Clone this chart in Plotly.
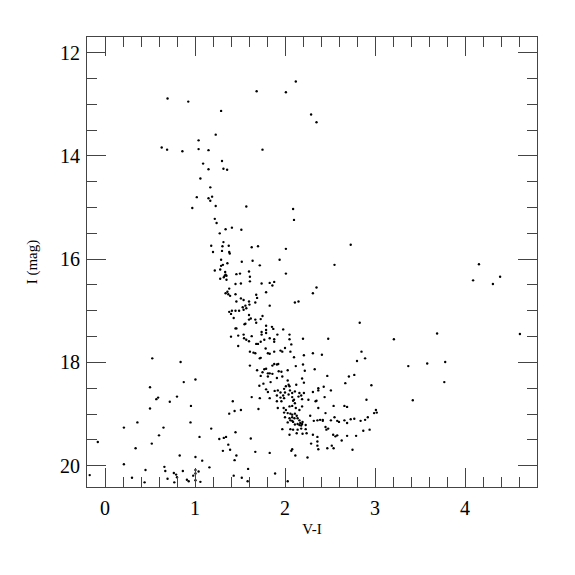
import plotly.graph_objects as go

# (V-I, I) pairs
stars = [
    (2.12,12.56),(1.685,12.75),(2.01,12.77),(0.695,12.89),(0.925,12.95),(1.29,13.13),(2.29,13.20),(2.35,13.35),
    (1.23,13.59),(1.04,13.70),(0.63,13.84),(0.69,13.88),(0.86,13.91),(1.04,13.87),(1.15,13.89),(1.75,13.88),
    (1.30,14.10),(1.09,14.15),(1.15,14.26),(1.316,14.25),(1.357,14.27),(1.06,14.44),(1.17,14.61),(1.02,14.80),
    (1.19,14.79),(1.15,14.82),(1.17,14.87),(0.97,15.01),(1.23,14.97),(1.57,14.98),(2.09,15.03),(2.10,15.24),
    (1.22,15.22),(1.24,15.30),(1.34,15.42),(1.41,15.39),(1.515,15.43),(1.275,15.50),
    (1.316,15.67),(1.18,15.74),(1.305,15.75),(1.375,15.74),(1.63,15.77),(1.70,15.75),(2.01,15.80),(1.20,15.86),
    (1.30,15.84),(1.38,15.86),(1.386,15.89),(1.29,16.01),(1.52,16.05),(1.64,16.03),(1.94,16.01),(1.36,16.08),
    (1.31,16.11),(1.29,16.13),(1.72,16.12),(1.22,16.22),(1.28,16.20),(1.335,16.25),(1.34,16.30),(1.35,16.32),
    (1.33,16.32),(1.32,16.35),(1.28,16.38),(1.46,16.29),(1.50,16.28),(1.60,16.24),(1.61,16.34),(1.61,16.43),
    (2.01,16.28),(1.35,16.40),(1.45,16.48),(1.51,16.47),(1.74,16.47),(1.83,16.46),(1.88,16.44),(1.86,16.51),
    (1.79,16.64),(1.38,16.57),(1.36,16.63),(1.34,16.66),(1.37,16.68),(1.39,16.71),(1.45,16.68),(1.51,16.76),
    (1.54,16.79),(1.68,16.69),(1.69,16.75),(1.46,16.82),(1.60,16.82),(1.605,16.88),(1.67,16.84),(2.11,16.84),
    (2.15,16.82),(1.83,16.90),(1.53,16.93),(1.56,16.90),(1.57,16.95),(1.54,16.98),(1.38,17.02),(1.41,17.00),
    (1.45,17.00),(1.40,17.06),(1.49,17.00),(1.60,17.08),(1.62,17.15),(1.60,17.17),(1.67,17.17),(1.73,17.16),
    (1.75,17.10),(1.43,17.14),(1.55,17.26),(1.56,17.25),(1.68,17.23),(1.79,17.29),(1.45,17.34),(1.46,17.34),
    (1.74,17.41),(1.74,17.46),(1.79,17.37),(1.79,17.43),(1.855,17.31),(1.87,17.35),(1.915,17.46),(1.98,17.36),
    (1.40,17.50),(1.48,17.48),(1.54,17.46),(1.545,17.53),(1.57,17.56),(1.60,17.59),(1.63,17.49),(1.68,17.64),
    (1.70,17.64),(1.73,17.60),(1.77,17.56),(1.83,17.53),(1.88,17.55),(1.88,17.60),(2.05,17.46),(2.05,17.55),
    (2.07,17.65),(2.20,17.54),(1.48,17.68),(1.61,17.79),(1.65,17.81),(1.67,17.82),(1.72,17.92),(1.73,17.91),
    (1.785,17.73),(1.81,17.82),(1.83,17.83),(1.88,17.79),(1.95,17.77),(1.97,17.79),(2.00,17.72),(2.06,17.79),
    (2.10,17.90),(2.21,17.86),(0.525,17.92),
    (2.31,17.82),(2.41,17.85),(2.85,17.79),(2.89,17.92),(2.80,17.97),
    (1.61,18.06),(2.20,18.04),(2.12,18.07),(1.88,18.03),(1.91,18.04),(1.925,18.03),(1.86,18.06),
    (1.69,18.15),(1.77,18.13),(1.79,18.12),(1.75,18.19),(1.81,18.21),(1.83,18.21),(1.93,18.17),(1.96,18.18),
    (1.86,18.22),(2.03,18.15),(2.22,18.16),(2.33,18.13),(1.73,18.26),(1.81,18.27),(1.91,18.30),(1.97,18.27),
    (2.19,18.31),(2.47,18.26),(2.71,18.27),(2.77,18.24),(1.84,18.38),(1.76,18.41),(1.715,18.45),(2.03,18.35),
    (2.04,18.43),(2.05,18.46),(2.01,18.46),(2.21,18.39),(2.125,18.43),(2.67,18.40),(2.96,18.44),
    (1.79,18.52),(1.81,18.57),(1.885,18.55),(1.92,18.54),(1.95,18.58),(1.99,18.51),(2.00,18.58),(2.055,18.54),
    (2.08,18.59),(2.11,18.56),(2.16,18.59),(2.21,18.59),(2.31,18.57),(2.37,18.54),(2.37,18.50),(2.43,18.47),
    (2.51,18.54),(1.63,18.67),(1.72,18.69),(1.83,18.69),(1.91,18.64),(1.95,18.68),(1.98,18.64),(1.99,18.69),
    (2.04,18.62),(2.08,18.67),(2.10,18.72),(2.15,18.66),(2.18,18.64),(2.19,18.71),(2.26,18.72),(2.34,18.75),
    (2.35,18.74),(2.44,18.67),(1.42,18.75),(1.91,18.75),(1.96,18.75),(2.09,18.74),(2.11,18.79),(2.905,18.72),
    (1.705,18.90),(1.92,18.88),(1.985,18.88),(2.01,18.92),(2.05,18.85),(2.08,18.84),(2.12,18.88),(2.16,18.92),
    (2.19,18.85),(2.28,19.03),(2.37,18.88),(2.45,18.98),(2.54,18.84),(2.66,18.84),(2.69,18.86),
    (1.38,18.99),(1.44,18.94),(1.51,18.92),(1.99,18.97),(2.03,18.98),(2.06,18.99),(2.08,19.01),(2.11,18.99),
    (2.13,19.03),(2.08,19.06),(2.105,19.08),(2.14,19.08),(2.00,19.06),(2.05,19.08),(2.06,19.12),(2.08,19.13),
    (2.09,19.15),(2.16,19.12),(2.17,19.17),(2.19,19.19),(2.195,19.15),(2.03,19.16),(2.11,19.20),(2.14,19.19),
    (2.16,19.21),(2.18,19.22),(2.23,19.21),(2.32,19.13),(2.36,19.12),(2.39,19.11),(2.42,19.11),(2.42,19.13),
    (2.51,19.12),(2.55,19.06),(2.58,19.13),(2.60,19.15),(2.66,19.12),(2.69,19.17),(2.73,19.10),(2.77,19.09),
    (2.84,19.13),(2.89,19.11),(2.92,19.06),(2.99,18.98),(3.02,18.97),(3.01,18.92),(2.45,19.25),(2.48,19.28),
    (2.46,19.30),(1.97,19.29),(2.06,19.29),(2.09,19.30),(2.14,19.30),(2.18,19.28),(2.23,19.29),(2.05,19.40),
    (2.13,19.37),(2.195,19.38),(2.24,19.37),(2.31,19.40),(2.36,19.44),(2.535,19.40),(2.56,19.43),(2.58,19.41),
    (2.63,19.51),(2.69,19.42),(2.79,19.42),(2.87,19.32),(2.94,19.30),(1.27,19.48),(1.32,19.46),(1.345,19.44),
    (1.45,19.35),(1.62,19.47),(2.29,19.57),(2.36,19.53),(2.36,19.61),(2.37,19.68),(2.47,19.66),(2.52,19.61),
    (2.54,19.66),(2.75,19.69),(1.37,19.59),(1.39,19.69),(1.31,19.71),(1.67,19.73),(1.83,19.75),(2.07,19.71),
    (2.08,19.68),(2.115,19.80),(2.25,19.84),(1.46,19.80),(1.44,19.89),(1.59,20.06),(1.43,20.19),(1.52,20.23),
    (1.585,20.30),(1.89,20.15),(2.03,20.30),
    (0.84,17.99),(0.50,18.48),(0.875,18.38),(1.005,18.33),(0.57,18.71),(0.59,18.68),(0.72,18.76),(0.80,18.66),
    (0.50,18.89),(0.955,18.84),(0.36,19.16),(0.21,19.26),(0.65,19.26),(0.95,19.16),(1.18,19.28),(0.60,19.41),
    (1.05,19.44),(-0.08,19.54),(0.52,19.57),(0.34,19.66),(0.83,19.80),(1.005,19.83),(1.08,19.90),(0.21,19.97),
    (1.16,20.03),(0.66,20.02),(0.67,20.10),(0.45,20.08),(0.865,20.10),(1.005,20.08),(1.04,20.11),(-0.17,20.18),
    (0.30,20.23),(0.695,20.25),(0.765,20.14),(0.79,20.17),(0.80,20.22),(0.91,20.27),(0.93,20.30),(0.98,20.19),
    (1.005,20.15),(1.005,20.28),(1.06,20.31),(0.77,20.32),(0.44,20.32),
    (2.73,15.72),(2.55,16.11),(2.35,16.55),(2.31,16.66),(4.155,16.10),(4.09,16.41),(4.31,16.48),(4.39,16.34),
    (4.61,17.45),(2.83,17.23),(2.48,17.54),(3.21,17.55),(3.69,17.44),(3.37,18.07),(3.58,18.02),(3.78,17.99),
    (3.77,18.38),(3.42,18.73),
]
v_minus_i = [s[0] for s in stars]
i_mag = [s[1] for s in stars]

x_range = [-0.2, 4.8]
y_range = [20.41, 11.70]

font_family = "Liberation Serif"
axis_color = "#444444"

fig = go.Figure(go.Scatter(
    x=v_minus_i, y=i_mag, mode="markers",
    marker=dict(color="black", size=2.4, line=dict(width=0)),
    showlegend=False,
))

common = dict(
    showline=True, linecolor=axis_color, linewidth=1.2, mirror="ticks",
    ticks="inside", ticklen=19, tickwidth=1.2, tickcolor=axis_color,
    showgrid=False, zeroline=False,
    tickfont=dict(family=font_family, size=20, color="black"),
)

fig.update_xaxes(
    range=x_range, tick0=0, dtick=1,
    minor=dict(ticks="inside", ticklen=10, dtick=0.2, tick0=0, tickcolor=axis_color, tickwidth=1.2, showgrid=False),
    title=dict(text="V-I", font=dict(family=font_family, size=15, color="black"), standoff=5),
    ticklabelstandoff=3,
    **common,
)
fig.update_yaxes(
    range=y_range, tick0=12, dtick=2,
    minor=dict(ticks="inside", ticklen=10, dtick=0.5, tick0=12, tickcolor=axis_color, tickwidth=1.2, showgrid=False),
    title=dict(text="I (mag)", font=dict(family=font_family, size=15, color="black"), standoff=18),
    ticklabelstandoff=2,
    **common,
)

fig.update_layout(
    width=567, height=567,
    margin=dict(l=79, r=38, t=29, b=88, autoexpand=False),
    plot_bgcolor="white", paper_bgcolor="white",
)

fig.write_html("out.html")
